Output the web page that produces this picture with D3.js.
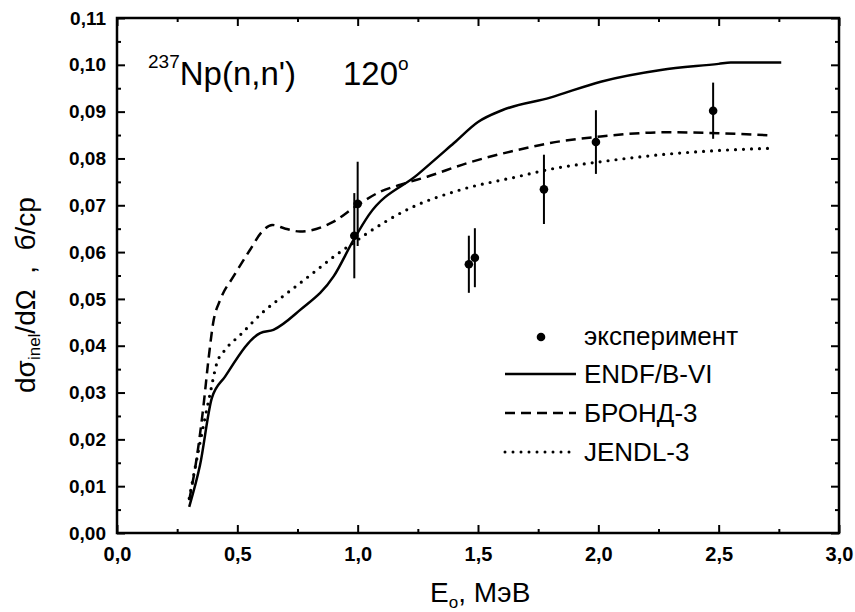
<!DOCTYPE html>
<html lang="ru">
<head>
  <meta charset="UTF-8" />
  <title>237Np(n,n') 120</title>
  <script src="https://d3js.org/d3.v7.min.js"></script>
  <style>
    body { margin: 0; background: #fff; }
    svg { display: block; background: #fff; font-family: "Liberation Sans", Arial, sans-serif; }
    .tick-label text { font-weight: bold; }
    .axis path.domain { display: none; }
    .axis line { stroke: #000; stroke-width: 2; }
  </style>
</head>
<body>
  <svg width="855" height="612"></svg>
  <script>
    // ENDF/B-VI (solid)
    const endfE = [0.30, 0.345, 0.394, 0.449, 0.595, 0.65, 0.76, 0.90, 0.983, 1.046, 1.25, 1.40, 1.50, 1.60, 1.80, 2.01, 2.26, 2.50, 2.55, 2.76];
    const endfS = [0.0056, 0.0145, 0.0288, 0.0334, 0.0427, 0.0434, 0.0476, 0.0548, 0.0626, 0.0679, 0.0766, 0.0833, 0.0878, 0.0903, 0.0930, 0.0964, 0.0989, 0.1002, 0.1005, 0.1005];

    // БРОНД-3 (dashed)
    const brondE = [0.30, 0.332, 0.359, 0.38, 0.40, 0.429, 0.484, 0.553, 0.60, 0.645, 0.70, 0.76, 0.90, 0.99, 1.094, 1.178, 1.289, 1.455, 1.663, 1.80, 2.01, 2.287, 2.50, 2.724];
    const brondS = [0.0070, 0.0163, 0.0270, 0.0370, 0.0450, 0.0498, 0.0548, 0.0605, 0.0642, 0.0658, 0.0650, 0.0644, 0.0665, 0.0697, 0.0729, 0.0744, 0.0761, 0.0790, 0.0818, 0.0833, 0.0847, 0.0856, 0.0854, 0.0849];

    // JENDL-3 (dotted)
    const jendlE = [0.30, 0.387, 0.415, 0.449, 0.512, 0.609, 0.706, 0.831, 0.90, 0.983, 1.039, 1.219, 1.427, 1.663, 1.80, 2.01, 2.26, 2.50, 2.73];
    const jendlS = [0.0074, 0.0298, 0.0363, 0.0391, 0.0423, 0.0473, 0.0512, 0.0562, 0.0590, 0.0620, 0.0640, 0.0694, 0.0733, 0.0761, 0.0777, 0.0793, 0.0808, 0.0817, 0.0822];

    // эксперимент
    const expE = [0.986, 1.0, 1.462, 1.487, 1.774, 1.99, 2.477];
    const expS = [0.0635, 0.0703, 0.0574, 0.0588, 0.0734, 0.0835, 0.0902];
    const expErr = [0.0091, 0.0090, 0.0061, 0.0063, 0.0074, 0.0068, 0.0060];

    const xMajor = [0, 0.5, 1.0, 1.5, 2.0, 2.5, 3.0];
    const xMinor = [0.25, 0.75, 1.25, 1.75, 2.25, 2.75];
    const yMajor = d3.range(0, 12).map(i => i / 100);
    const yMinor = d3.range(0, 11).map(i => i / 100 + 0.005);

    const legendItems = ["эксперимент", "ENDF/B-VI", "БРОНД-3", "JENDL-3"];

    const svg = d3.select("svg");
    const margin = { top: 18, right: 16, bottom: 79, left: 117 };
    const W = +svg.attr("width"), H = +svg.attr("height");

    const x = d3.scaleLinear().domain([0, 3]).range([margin.left, W - margin.right]);
    const y = d3.scaleLinear().domain([0, 0.11]).range([H - margin.bottom, margin.top]);

    const comma = f => v => d3.format(f)(v).replace(".", ",");

    // axes: ticks point inward on all four sides
    function addAxis(axis, tx, ty, cls) {
      svg.append("g").attr("class", "axis " + (cls || ""))
        .attr("transform", `translate(${tx},${ty})`)
        .call(axis);
    }
    const x0 = H - margin.bottom, y0 = margin.left;
    addAxis(d3.axisBottom(x).tickValues(xMajor).tickSize(-8).tickPadding(14).tickFormat(comma(".1f")), 0, x0, "tick-label bottom");
    addAxis(d3.axisBottom(x).tickValues(xMinor).tickSize(-4).tickFormat(""), 0, x0);
    addAxis(d3.axisTop(x).tickValues(xMajor).tickSize(-8).tickFormat(""), 0, margin.top);
    addAxis(d3.axisTop(x).tickValues(xMinor).tickSize(-4).tickFormat(""), 0, margin.top);
    addAxis(d3.axisLeft(y).tickValues(yMajor).tickSize(-8).tickPadding(11).tickFormat(comma(".2f")), y0, 0, "tick-label left");
    addAxis(d3.axisLeft(y).tickValues(yMinor).tickSize(-4).tickFormat(""), y0, 0);
    addAxis(d3.axisRight(y).tickValues(yMajor).tickSize(-8).tickFormat(""), W - margin.right, 0);
    addAxis(d3.axisRight(y).tickValues(yMinor).tickSize(-4).tickFormat(""), W - margin.right, 0);

    svg.selectAll(".bottom text").style("font-size", "20px");
    svg.selectAll(".left text").style("font-size", "19px");

    // frame
    svg.append("rect")
      .attr("x", x(0)).attr("y", y(0.11))
      .attr("width", x(3) - x(0)).attr("height", y(0) - y(0.11))
      .attr("fill", "none").attr("stroke", "#000").attr("stroke-width", 2.5);

    const line = d3.line().x(d => x(d[0])).y(d => y(d[1])).curve(d3.curveMonotoneX);

    svg.append("path").datum(d3.zip(endfE, endfS))
      .attr("d", line).attr("fill", "none").attr("stroke", "#000").attr("stroke-width", 2.5);
    svg.append("path").datum(d3.zip(brondE, brondS))
      .attr("d", line).attr("fill", "none").attr("stroke", "#000").attr("stroke-width", 2.5)
      .attr("stroke-dasharray", "10,6");
    svg.append("path").datum(d3.zip(jendlE, jendlS))
      .attr("d", line).attr("fill", "none").attr("stroke", "#000").attr("stroke-width", 3.2)
      .attr("stroke-linecap", "round").attr("stroke-dasharray", "0,8");

    // experimental points
    const pts = expE.map((e, i) => ({ e, s: expS[i], err: expErr[i] }));
    svg.selectAll(".err").data(pts).enter().append("line")
      .attr("x1", d => x(d.e)).attr("x2", d => x(d.e))
      .attr("y1", d => y(d.s - d.err)).attr("y2", d => y(d.s + d.err))
      .attr("stroke", "#000").attr("stroke-width", 2);
    svg.selectAll(".pt").data(pts).enter().append("circle")
      .attr("cx", d => x(d.e)).attr("cy", d => y(d.s)).attr("r", 4.3).attr("fill", "#000");

    // title
    const title = svg.append("text").attr("x", 148).attr("y", 85).style("font-size", "33px");
    title.append("tspan").attr("dy", -17).style("font-size", "19px").text("237");
    title.append("tspan").attr("dy", 17).text("Np(n,n')");
    title.append("tspan").attr("x", 343).text("120");
    title.append("tspan").attr("dy", -15).style("font-size", "19px").text("o");

    // axis titles
    const xl = svg.append("text").attr("x", 430).attr("y", 602).style("font-size", "28px");
    xl.append("tspan").text("E");
    xl.append("tspan").attr("dy", 6).style("font-size", "17px").text("o");
    xl.append("tspan").attr("dy", -6).text(", МэВ");

    const yl = svg.append("text")
      .attr("transform", "translate(35,295) rotate(-90)")
      .attr("text-anchor", "middle").style("font-size", "28px")
      .style("white-space", "pre");
    yl.append("tspan").text("dσ");
    yl.append("tspan").attr("dy", 5).style("font-size", "17px").text("inel");
    yl.append("tspan").attr("dy", -5).text("/dΩ  ,  б/ср");

    // legend
    const lg = svg.append("g");
    const rowY = [345, 383, 422, 461];
    lg.append("circle").attr("cx", 541).attr("cy", 337).attr("r", 4.3).attr("fill", "#000");
    const styles = [null, "", "10,6", "0,8"];
    [1, 2, 3].forEach(i => {
      lg.append("line").attr("x1", 505).attr("x2", 576)
        .attr("y1", rowY[i] - 9).attr("y2", rowY[i] - 9)
        .attr("stroke", "#000").attr("stroke-width", i === 3 ? 3 : 2.5)
        .attr("stroke-linecap", i === 3 ? "round" : "butt")
        .attr("stroke-dasharray", styles[i] || null);
    });
    lg.selectAll("text").data(legendItems).enter().append("text")
      .attr("x", 584).attr("y", (d, i) => rowY[i])
      .style("font-size", "26px").text(d => d);
  </script>
</body>
</html>
